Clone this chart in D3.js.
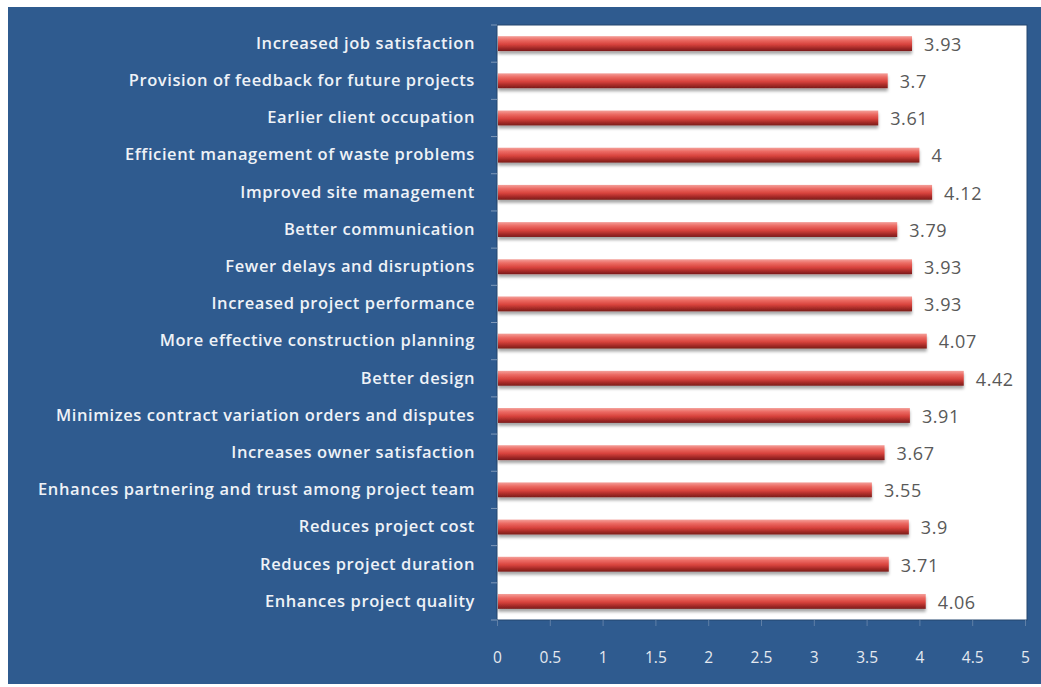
<!DOCTYPE html>
<html><head><meta charset="utf-8">
<script src="https://cdn.jsdelivr.net/npm/d3@7"></script>
<style>body{margin:0;background:#fff}svg{display:block}</style>
</head><body>
<script>
const categories = [
  "Increased job satisfaction",
  "Provision of feedback for future projects",
  "Earlier client occupation",
  "Efficient management  of waste problems",
  "Improved site management",
  "Better communication",
  "Fewer delays and disruptions",
  "Increased project performance",
  "More effective construction planning",
  "Better design",
  "Minimizes contract variation orders and disputes",
  "Increases owner satisfaction",
  "Enhances partnering  and trust among project team",
  "Reduces project cost",
  "Reduces project duration",
  "Enhances project quality"
];
const values = [3.93, 3.7, 3.61, 4, 4.12, 3.79, 3.93, 3.93, 4.07, 4.42, 3.91, 3.67, 3.55, 3.9, 3.71, 4.06];
const valueLabels = ["3.93","3.7","3.61","4","4.12","3.79","3.93","3.93","4.07","4.42","3.91","3.67","3.55","3.9","3.71","4.06"];
const xTicks = [0, 0.5, 1, 1.5, 2, 2.5, 3, 3.5, 4, 4.5, 5];

const W = 1041, H = 687;
const svg = d3.select("body").append("svg").attr("width", W).attr("height", H);
const defs = svg.append("defs");
const g = defs.append("linearGradient").attr("id","barGrad").attr("x1",0).attr("y1",0).attr("x2",0).attr("y2",1);
[[0,"#f4a09a"],[0.25,"#ec6b64"],[0.55,"#d8433d"],[0.8,"#a52a27"],[1,"#7a1c1a"]].forEach(([o,c])=>g.append("stop").attr("offset",o).attr("stop-color",c));
const sh = defs.append("filter").attr("id","shadow").attr("x","-5%").attr("y","-50%").attr("width","110%").attr("height","220%");
sh.append("feDropShadow").attr("dx",0).attr("dy",3).attr("stdDeviation",1.5).attr("flood-color","#000").attr("flood-opacity",0.35);

// outer blue background
svg.append("rect").attr("x",8).attr("y",7).attr("width",W-8).attr("height",677).attr("fill","#2f5b8f");

const plot = {l:497, r:1027, t:25, b:620};
const x = d3.scaleLinear().domain([0,5]).range([plot.l, plot.l + 528]);
const y = d3.scaleBand().domain(categories).range([plot.t, plot.b]).paddingInner(0.6).paddingOuter(0.3);

svg.append("rect").attr("x",plot.l).attr("y",plot.t).attr("width",plot.r-plot.l).attr("height",plot.b-plot.t)
  .attr("fill","#ffffff").attr("stroke","#24476f").attr("stroke-width",1);

// bars
svg.append("g").selectAll("rect").data(categories).join("rect")
  .attr("x", x(0)+1)
  .attr("y", d => y(d))
  .attr("width", (d,i) => x(values[i]) - x(0) - 1)
  .attr("height", y.bandwidth())
  .attr("fill","url(#barGrad)")
  .attr("filter","url(#shadow)");

// value labels
svg.append("g").selectAll("text").data(categories).join("text")
  .attr("x", (d,i) => x(values[i]) + 12)
  .attr("y", d => y(d) + y.bandwidth()/2 + 1)
  .attr("dy","0.35em")
  .attr("font-family","'Open Sans', sans-serif")
  .attr("font-size",18)
  .attr("letter-spacing",0.6)
  .attr("fill","#595959")
  .text((d,i) => valueLabels[i]);

// category axis (left)
const yAxisBand = d3.scaleBand().domain(categories).range([plot.t, plot.b]);
const yAx = svg.append("g").attr("transform",`translate(${plot.l},0)`)
  .call(d3.axisLeft(y).tickSize(0).tickPadding(22));
yAx.select(".domain").remove();
yAx.selectAll("text").attr("font-family","'Open Sans', sans-serif").attr("font-weight",600)
  .attr("font-size",16.5).attr("letter-spacing",0.6).attr("fill","#eef2f7");
// category boundary ticks
svg.append("g").selectAll("line").data(d3.range(categories.length+1)).join("line")
  .attr("x1",plot.l-6).attr("x2",plot.l)
  .attr("y1",i=>plot.t + i*yAxisBand.step()).attr("y2",i=>plot.t + i*yAxisBand.step())
  .attr("stroke","#7f98b8").attr("stroke-width",1);

// x axis
const xAx = svg.append("g").attr("transform",`translate(0,${plot.b})`)
  .call(d3.axisBottom(x).tickValues(xTicks).tickSize(6).tickPadding(26).tickFormat(d3.format("")));
xAx.select(".domain").remove();
xAx.selectAll("line").attr("stroke","#5f7fa6");
xAx.selectAll("text").attr("font-family","'Open Sans', sans-serif").attr("font-size",15.5).attr("fill","#e4e9f0");
</script>
</body></html>
